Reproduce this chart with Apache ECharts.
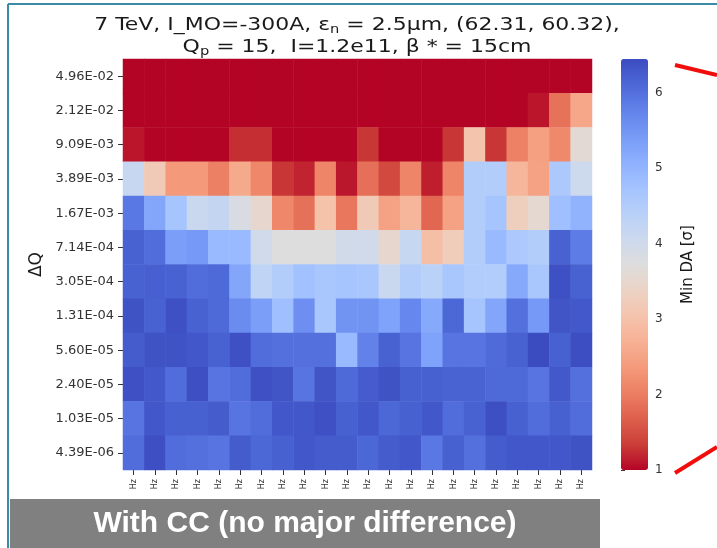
<!DOCTYPE html>
<html>
<head>
<meta charset="utf-8">
<script src="https://cdn.jsdelivr.net/npm/echarts@6/dist/echarts.min.js"></script>
<style>
  html, body { margin: 0; padding: 0; background: #fff; }
  #chart { width: 717px; height: 548px; }
</style>
</head>
<body>
<div id="chart"></div>
<script>
// ΔQ rows, top to bottom
const dqLabels = ['4.96E-02', '2.12E-02', '9.09E-03', '3.89E-03', '1.67E-03', '7.14E-04',
                  '3.05E-04', '1.31E-04', '5.60E-05', '2.40E-05', '1.03E-05', '4.39E-06'];
// x tick labels (only the "Hz" end is visible above the caption box)
const xLabels = ['Hz', 'Hz', 'Hz', 'Hz', 'Hz', 'Hz', 'Hz', 'Hz', 'Hz', 'Hz', 'Hz',
                 'Hz', 'Hz', 'Hz', 'Hz', 'Hz', 'Hz', 'Hz', 'Hz', 'Hz', 'Hz', 'Hz'];

// Min DA [σ] per row, one value per column
const da_4_96e02 = [1, 1, 1, 1, 1, 1, 1, 1, 1, 1, 1, 1, 1, 1, 1, 1, 1, 1, 1, 1, 1, 1];
const da_2_12e02 = [1, 1, 1, 1, 1, 1, 1, 1, 1, 1, 1, 1, 1, 1, 1, 1, 1, 1, 1, 1.1, 1.88, 2.55];
const da_9_09e03 = [1.1, 1, 1, 1, 1, 1.25, 1.25, 1, 1, 1, 1, 1.3, 1, 1, 1, 1.3, 3.05, 1.3, 2.05, 2.45, 2.15, 3.6];
const da_3_89e03 = [4.15, 3.18, 2.36, 2.36, 2.03, 2.6, 2.14, 1.3, 1.19, 2.09, 1.11, 1.85, 1.46, 2.09, 1.15, 2.09, 4.49, 4.49, 2.8, 2.47, 4.6, 4.05];
const da_1_67e03 = [5.9, 5.25, 4.7, 4.1, 4.2, 3.83, 3.5, 2.14, 1.87, 3.0, 1.93, 3.18, 2.47, 2.8, 1.76, 2.47, 4.49, 4.7, 3.29, 3.56, 4.8, 5.03];
const da_7_14e04 = [6.18, 6.04, 5.36, 5.44, 4.9, 4.9, 3.98, 3.72, 3.72, 3.72, 3.96, 3.98, 3.5, 4.16, 2.96, 3.23, 4.49, 4.9, 4.6, 4.49, 6.18, 5.85];
const da_3_05e04 = [6.18, 6.22, 6.18, 6.04, 6.1, 5.25, 4.27, 4.49, 4.76, 4.65, 4.7, 4.65, 4.1, 4.49, 4.38, 4.65, 4.5, 4.5, 5.2, 4.65, 6.4, 6.18];
const da_1_31e04 = [6.37, 6.18, 6.4, 6.18, 6.1, 5.63, 5.36, 4.8, 5.58, 4.65, 5.52, 5.52, 5.3, 5.7, 5.2, 6.12, 4.7, 5.25, 6.0, 5.44, 6.34, 6.3];
const da_5_60e05 = [6.26, 6.37, 6.37, 6.32, 6.18, 6.4, 6.04, 6.0, 6.0, 6.0, 4.9, 5.77, 6.18, 5.95, 5.3, 5.95, 5.95, 6.07, 6.18, 6.45, 6.2, 6.43];
const da_2_40e05 = [6.4, 6.3, 6.04, 6.41, 5.95, 6.04, 6.4, 6.34, 5.95, 6.34, 6.1, 6.25, 6.37, 6.2, 6.2, 6.17, 6.17, 6.1, 6.1, 5.95, 6.3, 6.0];
const da_1_03e05 = [5.95, 6.32, 6.2, 6.2, 6.26, 5.95, 6.04, 6.32, 6.32, 6.4, 6.2, 6.32, 6.12, 6.2, 6.32, 6.04, 6.18, 6.41, 6.2, 6.04, 6.2, 6.04];
const da_4_39e06 = [6.04, 6.41, 6.04, 6.0, 5.95, 6.26, 6.12, 6.2, 6.32, 6.26, 6.26, 6.12, 6.26, 6.32, 5.9, 6.2, 6.0, 6.26, 6.32, 6.32, 6.32, 6.37];

const daRows = [da_4_96e02, da_2_12e02, da_9_09e03, da_3_89e03, da_1_67e03, da_7_14e04,
                da_3_05e04, da_1_31e04, da_5_60e05, da_2_40e05, da_1_03e05, da_4_39e06];

// colour scale range
const daMin = 1;
const daMax = 6.45;

// coolwarm, reversed (low = red, high = blue)
const coolwarmRev = ['#b40426', '#cb3e38', '#de604d', '#ec7f63', '#f49a7b', '#f7b194', '#f5c4ad',
                     '#ecd3c5', '#dddddd', '#ccd9ee', '#b8d0f9', '#a3c2ff', '#8db0fe', '#779af7',
                     '#6282ea', '#4d68d7', '#3b4cc0'];

const heatData = [];
daRows.forEach((row, y) => {
    row.forEach((v, x) => heatData.push([x, y, v]));
});

const chart = echarts.init(document.getElementById('chart'));
const font = 'DejaVu Sans';

const option = {
    animation: false,
    backgroundColor: '#fff',
    grid: [
        { left: 123, top: 59, width: 469, height: 411 },
        { left: 621, top: 59, width: 27, height: 411 }
    ],
    xAxis: [
        {
            type: 'category',
            data: xLabels,
            gridIndex: 0,
            axisLine: { show: false },
            axisTick: { show: true, alignWithLabel: true, length: 5, lineStyle: { color: '#333' } },
            axisLabel: { rotate: 90, fontFamily: font, fontSize: 8, color: '#333', margin: 9, interval: 0 },
            splitArea: { show: false }
        },
        { type: 'value', gridIndex: 1, show: false, min: 0, max: 1 }
    ],
    yAxis: [
        {
            type: 'category',
            data: dqLabels,
            gridIndex: 0,
            inverse: true,
            name: 'ΔQ',
            nameLocation: 'middle',
            nameGap: 78,
            nameRotate: 90,
            nameTextStyle: { fontFamily: font, fontSize: 17, color: '#1a1a1a' },
            axisLine: { show: false },
            axisTick: { show: true, alignWithLabel: true, length: 5, lineStyle: { color: '#333' } },
            axisLabel: { fontFamily: font, fontSize: 13, color: '#333', margin: 9 }
        },
        {
            type: 'value',
            gridIndex: 1,
            position: 'right',
            min: daMin,
            max: daMax,
            interval: 1,
            name: 'Min DA [σ]',
            nameLocation: 'middle',
            nameGap: 33,
            nameRotate: 90,
            nameTextStyle: { fontFamily: font, fontSize: 15, color: '#1a1a1a' },
            axisLine: { show: false },
            splitLine: { show: false },
            axisTick: { show: true, length: 4, lineStyle: { color: '#333' } },
            axisLabel: { fontFamily: font, fontSize: 12, color: '#333', margin: 7, showMaxLabel: false }
        }
    ],
    visualMap: {
        type: 'continuous',
        min: daMin,
        max: daMax,
        seriesIndex: 0,
        calculable: false,
        hoverLink: false,
        orient: 'vertical',
        left: 621,
        top: 59,
        itemWidth: 27,
        itemHeight: 411,
        padding: 0,
        text: null,
        showLabel: false,
        indicatorSize: 0,
        inRange: { color: coolwarmRev }
    },
    series: [
        {
            type: 'heatmap',
            xAxisIndex: 0,
            yAxisIndex: 0,
            data: heatData,
            itemStyle: { borderWidth: 0 },
            emphasis: { disabled: true }
        }
    ],
    graphic: [
        {
            type: 'text', z: 100, x: 357, y: 14, scaleX: 1.22,
            style: {
                text: '7 TeV, I_MO=-300A, ε{sub|n} = 2.5μm, (62.31, 60.32),\nQ{sub|p} = 15,  I=1.2e11, β * = 15cm',
                fill: '#1a1a1a',
                fontFamily: font,
                fontSize: 18,
                lineHeight: 22,
                textAlign: 'center',
                rich: {
                    sub: { fill: '#1a1a1a', fontFamily: font, fontSize: 12, lineHeight: 22, padding: [9, 0, 0, 0] }
                }
            }
        },
        { type: 'line', z: 100, shape: { x1: 8, y1: 4, x2: 8, y2: 548 }, style: { stroke: '#3b8aa6', lineWidth: 2 } },
        { type: 'line', z: 100, shape: { x1: 8, y1: 4, x2: 717, y2: 4 }, style: { stroke: '#3b8aa6', lineWidth: 2 } },
        { type: 'line', z: 100, shape: { x1: 675, y1: 65, x2: 717, y2: 75 }, style: { stroke: '#f20d0d', lineWidth: 4 } },
        { type: 'line', z: 100, shape: { x1: 675, y1: 473, x2: 717, y2: 447 }, style: { stroke: '#f20d0d', lineWidth: 4 } },
        { type: 'rect', z: 100, shape: { x: 10, y: 499, width: 590, height: 49 }, style: { fill: '#808080' } },
        {
            type: 'text', z: 101, x: 305, y: 524,
            style: {
                text: 'With CC (no major difference)',
                fill: '#fff',
                font: 'bold 30px "Liberation Sans", Arial, sans-serif',
                textAlign: 'center',
                textVerticalAlign: 'middle'
            }
        }
    ]
};

chart.setOption(option);
window.addEventListener('resize', () => chart.resize());
</script>
</body>
</html>
